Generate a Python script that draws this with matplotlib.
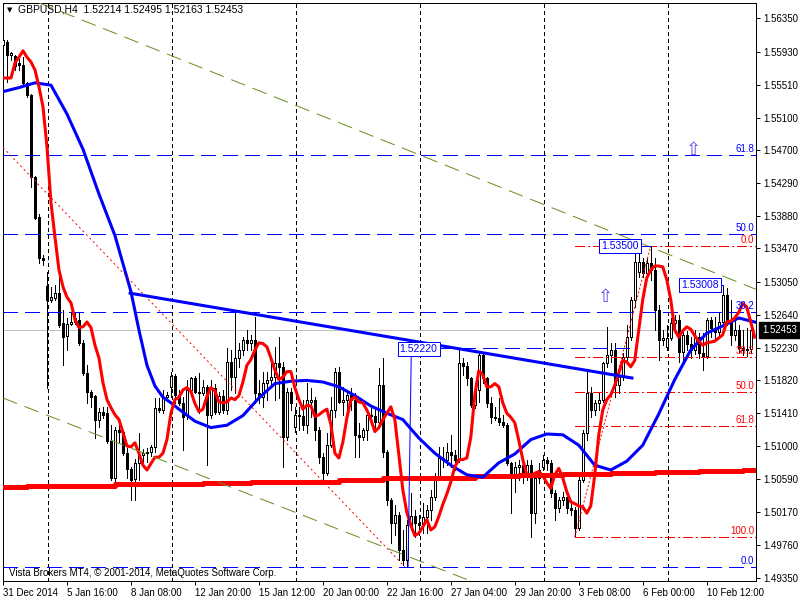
import numpy as np
import matplotlib
matplotlib.use('Agg')
from matplotlib import pyplot as plt
from matplotlib import transforms

plt.rcParams['font.family'] = ['Liberation Sans', 'DejaVu Sans']

symbol = 'GBPUSD,H4'

# H4 bars (bar 0 = 31 Dec 2014 00:00)
opens = [
    1.5601, 1.5605, 1.5589, 1.5588, 1.5579, 1.5576, 1.5554, 1.5539, 1.5436, 1.5386,
    1.5335, 1.5300, 1.5283, 1.5285, 1.5291, 1.5254, 1.5238, 1.5253, 1.5255, 1.5258,
    1.5229, 1.5191, 1.5168, 1.5163, 1.5133, 1.5143, 1.5141, 1.5106, 1.5060, 1.5120,
    1.5117, 1.5091, 1.5071, 1.5059, 1.5079, 1.5089, 1.5091, 1.5093, 1.5099, 1.5148,
    1.5145, 1.5161, 1.5174, 1.5188, 1.5164, 1.5154, 1.5140, 1.5170, 1.5185, 1.5168,
    1.5166, 1.5174, 1.5139, 1.5173, 1.5143, 1.5163, 1.5145, 1.5205, 1.5186, 1.5210,
    1.5220, 1.5233, 1.5229, 1.5233, 1.5166, 1.5161, 1.5179, 1.5183, 1.5186, 1.5204,
    1.5199, 1.5111, 1.5168, 1.5124, 1.5139, 1.5138, 1.5126, 1.5155, 1.5158, 1.5120,
    1.5086, 1.5066, 1.5101, 1.5145, 1.5193, 1.5155, 1.5158, 1.5164, 1.5158, 1.5114,
    1.5111, 1.5120, 1.5139, 1.5137, 1.5130, 1.5176, 1.5093, 1.5033, 1.5004, 1.5014,
    1.4970, 1.4958, 1.5001, 1.5013, 1.5004, 1.5001, 1.5011, 1.5020, 1.5036, 1.5061,
    1.5085, 1.5083, 1.5093, 1.5089, 1.5083, 1.5204, 1.5200, 1.5185, 1.5151, 1.5170,
    1.5214, 1.5185, 1.5154, 1.5136, 1.5135, 1.5130, 1.5126, 1.5079, 1.5061, 1.5074,
    1.5076, 1.5066, 1.5076, 1.5016, 1.5060, 1.5074, 1.5083, 1.5079, 1.5041, 1.5023,
    1.5033, 1.5036, 1.5023, 1.5020, 1.4998, 1.5058, 1.5116, 1.5166, 1.5145, 1.5154,
    1.5158, 1.5204, 1.5214, 1.5220, 1.5176, 1.5186, 1.5211, 1.5236, 1.5283, 1.5318,
    1.5330, 1.5316, 1.5329, 1.5320, 1.5270, 1.5233, 1.5224, 1.5235, 1.5254, 1.5258,
    1.5218, 1.5239, 1.5228, 1.5220, 1.5236, 1.5216, 1.5213, 1.5258, 1.5248, 1.5243,
    1.5255, 1.5289, 1.5255, 1.5239, 1.5245, 1.5223, 1.5220, 1.52214,
]
highs = [
    1.5618, 1.5608, 1.5593, 1.5589, 1.5584, 1.5586, 1.5555, 1.5540, 1.5437, 1.5390,
    1.5339, 1.5318, 1.5299, 1.5301, 1.5311, 1.5270, 1.5260, 1.5268, 1.5268, 1.5266,
    1.5233, 1.5201, 1.5170, 1.5164, 1.5148, 1.5149, 1.5149, 1.5126, 1.5124, 1.5129,
    1.5120, 1.5098, 1.5074, 1.5084, 1.5116, 1.5096, 1.5098, 1.5101, 1.5160, 1.5160,
    1.5170, 1.5168, 1.5193, 1.5190, 1.5170, 1.5161, 1.5183, 1.5186, 1.5187, 1.5191,
    1.5183, 1.5176, 1.5183, 1.5178, 1.5168, 1.5170, 1.5223, 1.5220, 1.5270, 1.5229,
    1.5236, 1.5245, 1.5239, 1.5261, 1.5183, 1.5193, 1.5193, 1.5204, 1.5224, 1.5236,
    1.5205, 1.5173, 1.5173, 1.5149, 1.5149, 1.5158, 1.5179, 1.5173, 1.5161, 1.5124,
    1.5091, 1.5116, 1.5161, 1.5198, 1.5199, 1.5174, 1.5170, 1.5173, 1.5166, 1.5129,
    1.5123, 1.5141, 1.5148, 1.5149, 1.5198, 1.5210, 1.5095, 1.5035, 1.5026, 1.5018,
    1.4995, 1.5008, 1.5041, 1.5020, 1.5014, 1.5029, 1.5026, 1.5045, 1.5066, 1.5099,
    1.5099, 1.5104, 1.5114, 1.5095, 1.5222, 1.5210, 1.5205, 1.5186, 1.5179, 1.5216,
    1.5216, 1.5186, 1.5161, 1.5149, 1.5160, 1.5139, 1.5129, 1.5080, 1.5080, 1.5083,
    1.5086, 1.5083, 1.5083, 1.5066, 1.5079, 1.5089, 1.5086, 1.5083, 1.5045, 1.5036,
    1.5043, 1.5041, 1.5033, 1.5024, 1.5061, 1.5120, 1.5195, 1.5174, 1.5158, 1.5166,
    1.5205, 1.5249, 1.5229, 1.5229, 1.5199, 1.5216, 1.5251, 1.5286, 1.5343, 1.5341,
    1.5335, 1.5335, 1.5350, 1.5335, 1.5276, 1.5245, 1.5251, 1.5260, 1.5264, 1.5264,
    1.5243, 1.5244, 1.5236, 1.5245, 1.5241, 1.5241, 1.5260, 1.5261, 1.5261, 1.5268,
    1.53008, 1.5298, 1.5283, 1.5258, 1.5251, 1.5245, 1.5248, 1.52495,
]
lows = [
    1.5558, 1.5555, 1.5583, 1.5570, 1.5570, 1.5551, 1.5536, 1.5424, 1.5384, 1.5329,
    1.5326, 1.5173, 1.5280, 1.5283, 1.5249, 1.5201, 1.5220, 1.5251, 1.5253, 1.5226,
    1.5189, 1.5154, 1.5149, 1.5110, 1.5124, 1.5135, 1.5104, 1.5058, 1.5054, 1.5105,
    1.5089, 1.5060, 1.5033, 1.5033, 1.5058, 1.5078, 1.5080, 1.5088, 1.5093, 1.5143,
    1.5141, 1.5158, 1.5161, 1.5154, 1.5151, 1.5095, 1.5134, 1.5168, 1.5166, 1.5141,
    1.5164, 1.5076, 1.5135, 1.5140, 1.5140, 1.5141, 1.5140, 1.5170, 1.5166, 1.5199,
    1.5214, 1.5220, 1.5220, 1.5154, 1.5154, 1.5149, 1.5158, 1.5174, 1.5158, 1.5160,
    1.5074, 1.5108, 1.5145, 1.5118, 1.5120, 1.5120, 1.5116, 1.5136, 1.5108, 1.5079,
    1.5055, 1.5064, 1.5099, 1.5136, 1.5154, 1.5139, 1.5143, 1.5145, 1.5086, 1.5086,
    1.5108, 1.5108, 1.5135, 1.5120, 1.5129, 1.5086, 1.5026, 1.4979, 1.4989, 1.4958,
    1.4951, 1.4949, 1.4995, 1.4986, 1.4989, 1.4991, 1.4991, 1.5008, 1.5033, 1.5058,
    1.5074, 1.5076, 1.5074, 1.5070, 1.5080, 1.5189, 1.5176, 1.5149, 1.5148, 1.5155,
    1.5179, 1.5149, 1.5129, 1.5133, 1.5126, 1.5124, 1.5076, 1.5016, 1.5043, 1.5058,
    1.5054, 1.5058, 1.4986, 1.5004, 1.5054, 1.5070, 1.5070, 1.5036, 1.5008, 1.5018,
    1.5026, 1.5016, 1.5014, 1.4986, 1.4995, 1.5055, 1.5108, 1.5136, 1.5139, 1.5145,
    1.5155, 1.5199, 1.5205, 1.5161, 1.5166, 1.5183, 1.5205, 1.5233, 1.5274, 1.5311,
    1.5311, 1.5313, 1.5308, 1.5245, 1.5208, 1.5226, 1.5220, 1.5233, 1.5245, 1.5205,
    1.5208, 1.5220, 1.5210, 1.5215, 1.5210, 1.5195, 1.5210, 1.5236, 1.5233, 1.5236,
    1.5251, 1.5251, 1.5226, 1.5233, 1.5218, 1.5214, 1.5213, 1.52163,
]
closes = [
    1.5608, 1.5589, 1.5591, 1.5575, 1.5576, 1.5554, 1.5539, 1.5436, 1.5385, 1.5335,
    1.5333, 1.5283, 1.5286, 1.5291, 1.5251, 1.5236, 1.5253, 1.5255, 1.5260, 1.5229,
    1.5191, 1.5168, 1.5161, 1.5133, 1.5143, 1.5139, 1.5106, 1.5060, 1.5120, 1.5117,
    1.5091, 1.5071, 1.5058, 1.5079, 1.5089, 1.5091, 1.5093, 1.5099, 1.5148, 1.5145,
    1.5161, 1.5164, 1.5188, 1.5164, 1.5154, 1.5136, 1.5170, 1.5185, 1.5168, 1.5166,
    1.5174, 1.5139, 1.5173, 1.5143, 1.5163, 1.5145, 1.5205, 1.5186, 1.5210, 1.5220,
    1.5233, 1.5229, 1.5233, 1.5166, 1.5161, 1.5179, 1.5183, 1.5186, 1.5204, 1.5199,
    1.5111, 1.5168, 1.5154, 1.5139, 1.5138, 1.5126, 1.5158, 1.5158, 1.5120, 1.5086,
    1.5066, 1.5101, 1.5145, 1.5193, 1.5155, 1.5158, 1.5164, 1.5158, 1.5114, 1.5111,
    1.5120, 1.5139, 1.5137, 1.5130, 1.5176, 1.5093, 1.5033, 1.5004, 1.5014, 1.4970,
    1.4958, 1.5001, 1.5013, 1.5004, 1.5001, 1.5011, 1.5020, 1.5036, 1.5061, 1.5085,
    1.5083, 1.5093, 1.5089, 1.5083, 1.5204, 1.5200, 1.5185, 1.5151, 1.5170, 1.5214,
    1.5185, 1.5154, 1.5136, 1.5135, 1.5130, 1.5126, 1.5079, 1.5061, 1.5074, 1.5076,
    1.5066, 1.5076, 1.5016, 1.5060, 1.5070, 1.5083, 1.5079, 1.5041, 1.5023, 1.5033,
    1.5036, 1.5023, 1.5020, 1.4998, 1.5058, 1.5116, 1.5166, 1.5145, 1.5154, 1.5158,
    1.5204, 1.5214, 1.5220, 1.5176, 1.5186, 1.5211, 1.5236, 1.5283, 1.5330, 1.5330,
    1.5316, 1.5329, 1.5320, 1.5270, 1.5233, 1.5235, 1.5235, 1.5254, 1.5258, 1.5218,
    1.5239, 1.5228, 1.5220, 1.5236, 1.5216, 1.5213, 1.5258, 1.5248, 1.5243, 1.5255,
    1.5289, 1.5255, 1.5239, 1.5245, 1.5223, 1.5220, 1.5221, 1.52453,
]

# red (fast) moving average, one value per bar
fast_ma = [
    1.5560, 1.5560, 1.5560, 1.5579, 1.5586, 1.5594, 1.5586, 1.5580, 1.5570, 1.5549,
    1.5524, 1.5474, 1.5404, 1.5361, 1.5320, 1.5299, 1.5286, 1.5279, 1.5258, 1.5248,
    1.5249, 1.5255, 1.5248, 1.5226, 1.5210, 1.5179, 1.5158, 1.5148, 1.5139, 1.5133,
    1.5117, 1.5100, 1.5099, 1.5104, 1.5091, 1.5076, 1.5070, 1.5078, 1.5086, 1.5086,
    1.5091, 1.5108, 1.5141, 1.5158, 1.5161, 1.5170, 1.5173, 1.5168, 1.5153, 1.5143,
    1.5146, 1.5162, 1.5173, 1.5169, 1.5155, 1.5154, 1.5155, 1.5160, 1.5158, 1.5163,
    1.5180, 1.5201, 1.5208, 1.5220, 1.5229, 1.5228, 1.5224, 1.5210, 1.5195, 1.5183,
    1.5186, 1.5193, 1.5193, 1.5173, 1.5158, 1.5146, 1.5151, 1.5150, 1.5137, 1.5139,
    1.5143, 1.5146, 1.5127, 1.5091, 1.5085, 1.5105, 1.5135, 1.5158, 1.5161, 1.5155,
    1.5154, 1.5145, 1.5133, 1.5118, 1.5123, 1.5133, 1.5141, 1.5149, 1.5133, 1.5089,
    1.5045, 1.5017, 1.5001, 1.4988, 1.4991, 1.4999, 1.5008, 1.4995, 1.4999, 1.5012,
    1.5027, 1.5040, 1.5055, 1.5074, 1.5083, 1.5083, 1.5085, 1.5111, 1.5164, 1.5194,
    1.5189, 1.5174, 1.5174, 1.5178, 1.5174, 1.5154, 1.5141, 1.5136, 1.5129, 1.5107,
    1.5083, 1.5064, 1.5061, 1.5066, 1.5068, 1.5063, 1.5054, 1.5047, 1.5064, 1.5072,
    1.5060, 1.5043, 1.5030, 1.5028, 1.5025, 1.5024, 1.5016, 1.5025, 1.5064, 1.5114,
    1.5145, 1.5158, 1.5164, 1.5176, 1.5191, 1.5207, 1.5205, 1.5199, 1.5207, 1.5245,
    1.5283, 1.5310, 1.5320, 1.5325, 1.5325, 1.5324, 1.5308, 1.5283, 1.5245, 1.5236,
    1.5244, 1.5249, 1.5246, 1.5238, 1.5231, 1.5226, 1.5229, 1.5230, 1.5231, 1.5235,
    1.5239, 1.5255, 1.5256, 1.5260, 1.5267, 1.5278, 1.5274, 1.5255, 1.5236,
]

# blue (slow) moving average, sampled along the curve
slow_ma_bars = [0, 4, 8, 12, 16, 20, 24, 28, 32, 34, 36, 38, 40, 42, 44, 48, 52, 56,
                60, 64, 68, 72, 76, 80, 84, 88, 92, 96, 100, 104, 108, 112, 116, 120,
                124, 128, 132, 136, 140, 144, 148, 152, 156, 160, 164, 168, 172, 176,
                180, 184, 188]
slow_ma = [1.5543, 1.5548, 1.5554, 1.5551, 1.5515, 1.5471, 1.5415, 1.5363, 1.5293,
           1.5245, 1.5201, 1.5175, 1.5161, 1.5154, 1.5146, 1.5131, 1.5123, 1.5126,
           1.5138, 1.5160, 1.5178, 1.5181, 1.5182, 1.5180, 1.5174, 1.5163, 1.5150,
           1.5141, 1.5133, 1.5110, 1.5091, 1.5076, 1.5064, 1.5061, 1.5079, 1.5090,
           1.5108, 1.5115, 1.5114, 1.5101, 1.5076, 1.5070, 1.5081, 1.5101, 1.5140,
           1.5183, 1.5220, 1.5241, 1.5250, 1.5260, 1.5255]

# thick red long-period average (stepped)
long_ma_bars = [0, 6, 17, 28, 39, 50, 62, 73, 84, 95, 107, 118, 129, 140, 152, 163, 174, 185]
long_ma = [1.50488, 1.50494, 1.50506, 1.50519, 1.50531, 1.50538, 1.50544, 1.50556, 1.50575,
           1.50594, 1.50606, 1.50619, 1.50638, 1.50650, 1.50663, 1.50675, 1.50688, 1.50700]

date_bars = [0, 16, 32, 48, 64, 80, 96, 112, 128, 144, 160, 176]
date_labels = ['31 Dec 2014', '5 Jan 16:00', '8 Jan 08:00', '12 Jan 20:00',
               '15 Jan 12:00', '20 Jan 00:00', '22 Jan 16:00', '27 Jan 04:00',
               '29 Jan 20:00', '3 Feb 08:00', '6 Feb 00:00', '10 Feb 12:00']
week_bars = [11, 42, 73, 104, 135, 166]
price_ticks = [1.5635, 1.5593, 1.5551, 1.5510, 1.5470, 1.5429, 1.5388, 1.5347, 1.5305,
               1.5264, 1.5223, 1.5182, 1.5141, 1.5100, 1.5059, 1.5017, 1.4976, 1.4935]

# objects drawn on the chart
blue_fib = (1.5782, 1.4949)            # 100 % and 0 % prices
blue_fib_levels = [0.0, 38.2, 50.0, 61.8]
red_fib_bars = (143, 162)
red_fib = (1.4986, 1.5350)
red_fib_levels = [0.0, 38.2, 50.0, 61.8, 100.0]
channel_top = ([9, 190], [1.5654, 1.52925])
channel_bottom = ([0, 125], [1.5160, 1.49156])
red_trend = ([0, 100.5], [1.5473, 1.4949])
blue_trend = ([31.8, 157.3], [1.5291, 1.5185])
up_arrows = [(172.6, 1.5470), (150.8, 1.5286)]

PX = 0.72  # one pixel in points at dpi 100

fig = plt.figure(figsize=(8, 6), dpi=100)
ax = fig.add_axes([3 / 800, 19 / 600, 753 / 800, 578 / 600])
ax.set_xlim(0.075, 188.325)
ax.set_ylim(1.493125, 1.565375)

x = np.arange(len(closes))
o = np.array(opens)
c = np.array(closes)
h = np.maximum(np.array(highs), np.maximum(o, c))
l = np.minimum(np.array(lows), np.minimum(o, c))
up = c >= o

# period separators + bid line
for b in week_bars:
    ax.axvline(b + 0.3, color='black', lw=PX, dashes=(3, 3), zorder=1, antialiased=False)
ax.axhline(closes[-1], color='#c0c0c0', lw=PX, zorder=1, antialiased=False)

# candles
ax.vlines(x, l, h, color='black', lw=PX, zorder=3, antialiased=False)
lo = np.minimum(o, c)
hh = np.abs(c - o)
ax.bar(x[up], hh[up], 0.5, bottom=lo[up], color='white', edgecolor='black', lw=PX,
       zorder=4, antialiased=False)
ax.bar(x[~up], hh[~up], 0.5, bottom=lo[~up], color='black', edgecolor='black', lw=PX,
       zorder=4, antialiased=False)

# fibonacci levels
a, b0 = blue_fib
for lv in blue_fib_levels:
    p = b0 + (a - b0) * lv / 100
    ax.axhline(p, color='blue', lw=PX, dashes=(15, 7), zorder=5, antialiased=False)
    ax.text(187.9, p + 0.00012, f'{lv:.1f}', color='blue', fontsize=7, ha='right', va='bottom', zorder=8)
a, b0 = red_fib
for lv in red_fib_levels:
    p = b0 + (a - b0) * lv / 100
    ax.plot([red_fib_bars[0], 190], [p, p], color='red', lw=PX, dashes=(10, 3, 2, 3),
            zorder=5, antialiased=False)
    ax.text(187.9, p + 0.00012, f'{lv:.1f}', color='red', fontsize=7, ha='right', va='bottom', zorder=8)
ax.plot(red_fib_bars, red_fib, color='red', lw=PX, dashes=(2, 2), zorder=5)

# moving averages
ax.step(long_ma_bars + [190], long_ma + long_ma[-1:], where='post', color='red', lw=3.6, zorder=6)
ax.plot(slow_ma_bars, slow_ma, color='blue', lw=2.2, zorder=6)
ax.plot(np.arange(len(fast_ma)), fast_ma, color='red', lw=2.2, zorder=6)

# trend lines
olive = '#6b8e23'
ax.plot(*channel_top, color=olive, lw=PX, dashes=(15, 8), zorder=7)
ax.plot(*channel_bottom, color=olive, lw=PX, dashes=(15, 8), zorder=7)
ax.plot(*red_trend, color='red', lw=PX, dashes=(2, 3), zorder=7)
ax.plot(*blue_trend, color='blue', lw=2.2, zorder=7)
ax.plot([102.1, 101.3], [1.5213, lows[101]], color='blue', lw=PX, zorder=7)

# price marks on the swing highs
box = dict(boxstyle='square,pad=0.2', fc='white', ec='blue', lw=PX)
ax.plot([150, 162], [highs[162]] * 2, color='blue', lw=PX, zorder=8, antialiased=False)
ax.text(149.6, highs[162], f'{highs[162]:.5f}', color='blue', fontsize=7.5, ha='left', va='center', bbox=box, zorder=9)
ax.plot([170, 180], [highs[180]] * 2, color='blue', lw=PX, zorder=8, antialiased=False)
ax.text(169.6, highs[180], f'{highs[180]:.5f}', color='blue', fontsize=7.5, ha='left', va='center', bbox=box, zorder=9)
ax.plot([109, 157.3], [highs[114]] * 2, color='blue', lw=PX, dashes=(15, 7), zorder=8, antialiased=False)
ax.text(99.2, highs[114] - 0.0001, f'{highs[114]:.5f}', color='blue', fontsize=7.5, ha='left', va='center', bbox=box, zorder=9)

for ax_x, ax_y in up_arrows:
    ax.text(ax_x, ax_y, '\u21e7', color='#5a46e6', fontsize=13, ha='center', va='center',
            family='DejaVu Sans', zorder=9)

# axes look
for s in ax.spines.values():
    s.set_color('black')
    s.set_linewidth(PX)
ax.yaxis.tick_right()
ax.set_yticks(price_ticks)
ax.set_yticklabels([f'{p:.5f}' for p in price_ticks])
ax.set_xticks(date_bars)
ax.set_xticklabels(date_labels)
for t in ax.get_xticklabels():
    t.set_ha('left')
ax.tick_params(axis='both', length=3, width=PX, pad=2, labelsize=7, colors='black')

trans = transforms.blended_transform_factory(ax.transAxes, ax.transData)
ax.text(1 + 6 / 753, closes[-1], f'{closes[-1]:.5f}', transform=trans, color='white',
        fontsize=7, ha='left', va='center', clip_on=False, zorder=10,
        bbox=dict(boxstyle='square,pad=0.3', fc='black', ec='black'))

ax.text(6 / 753, 8 / 578, 'Vista Brokers MT4, \u00a9 2001-2014, MetaQuotes Software Corp.',
        transform=ax.transAxes, fontsize=7, ha='left', va='center', zorder=10)
fig.text(10 / 800, 1 - 10 / 600, '\u25bc', fontsize=5, ha='center', va='center', family='DejaVu Sans')
header = f'{symbol}  {opens[-1]:.5f} {highs[-1]:.5f} {lows[-1]:.5f} {closes[-1]:.5f}'
fig.text(18 / 800, 1 - 10 / 600, header, fontsize=7.5, ha='left', va='center')

fig.savefig('out.png', dpi=100, facecolor='white')
